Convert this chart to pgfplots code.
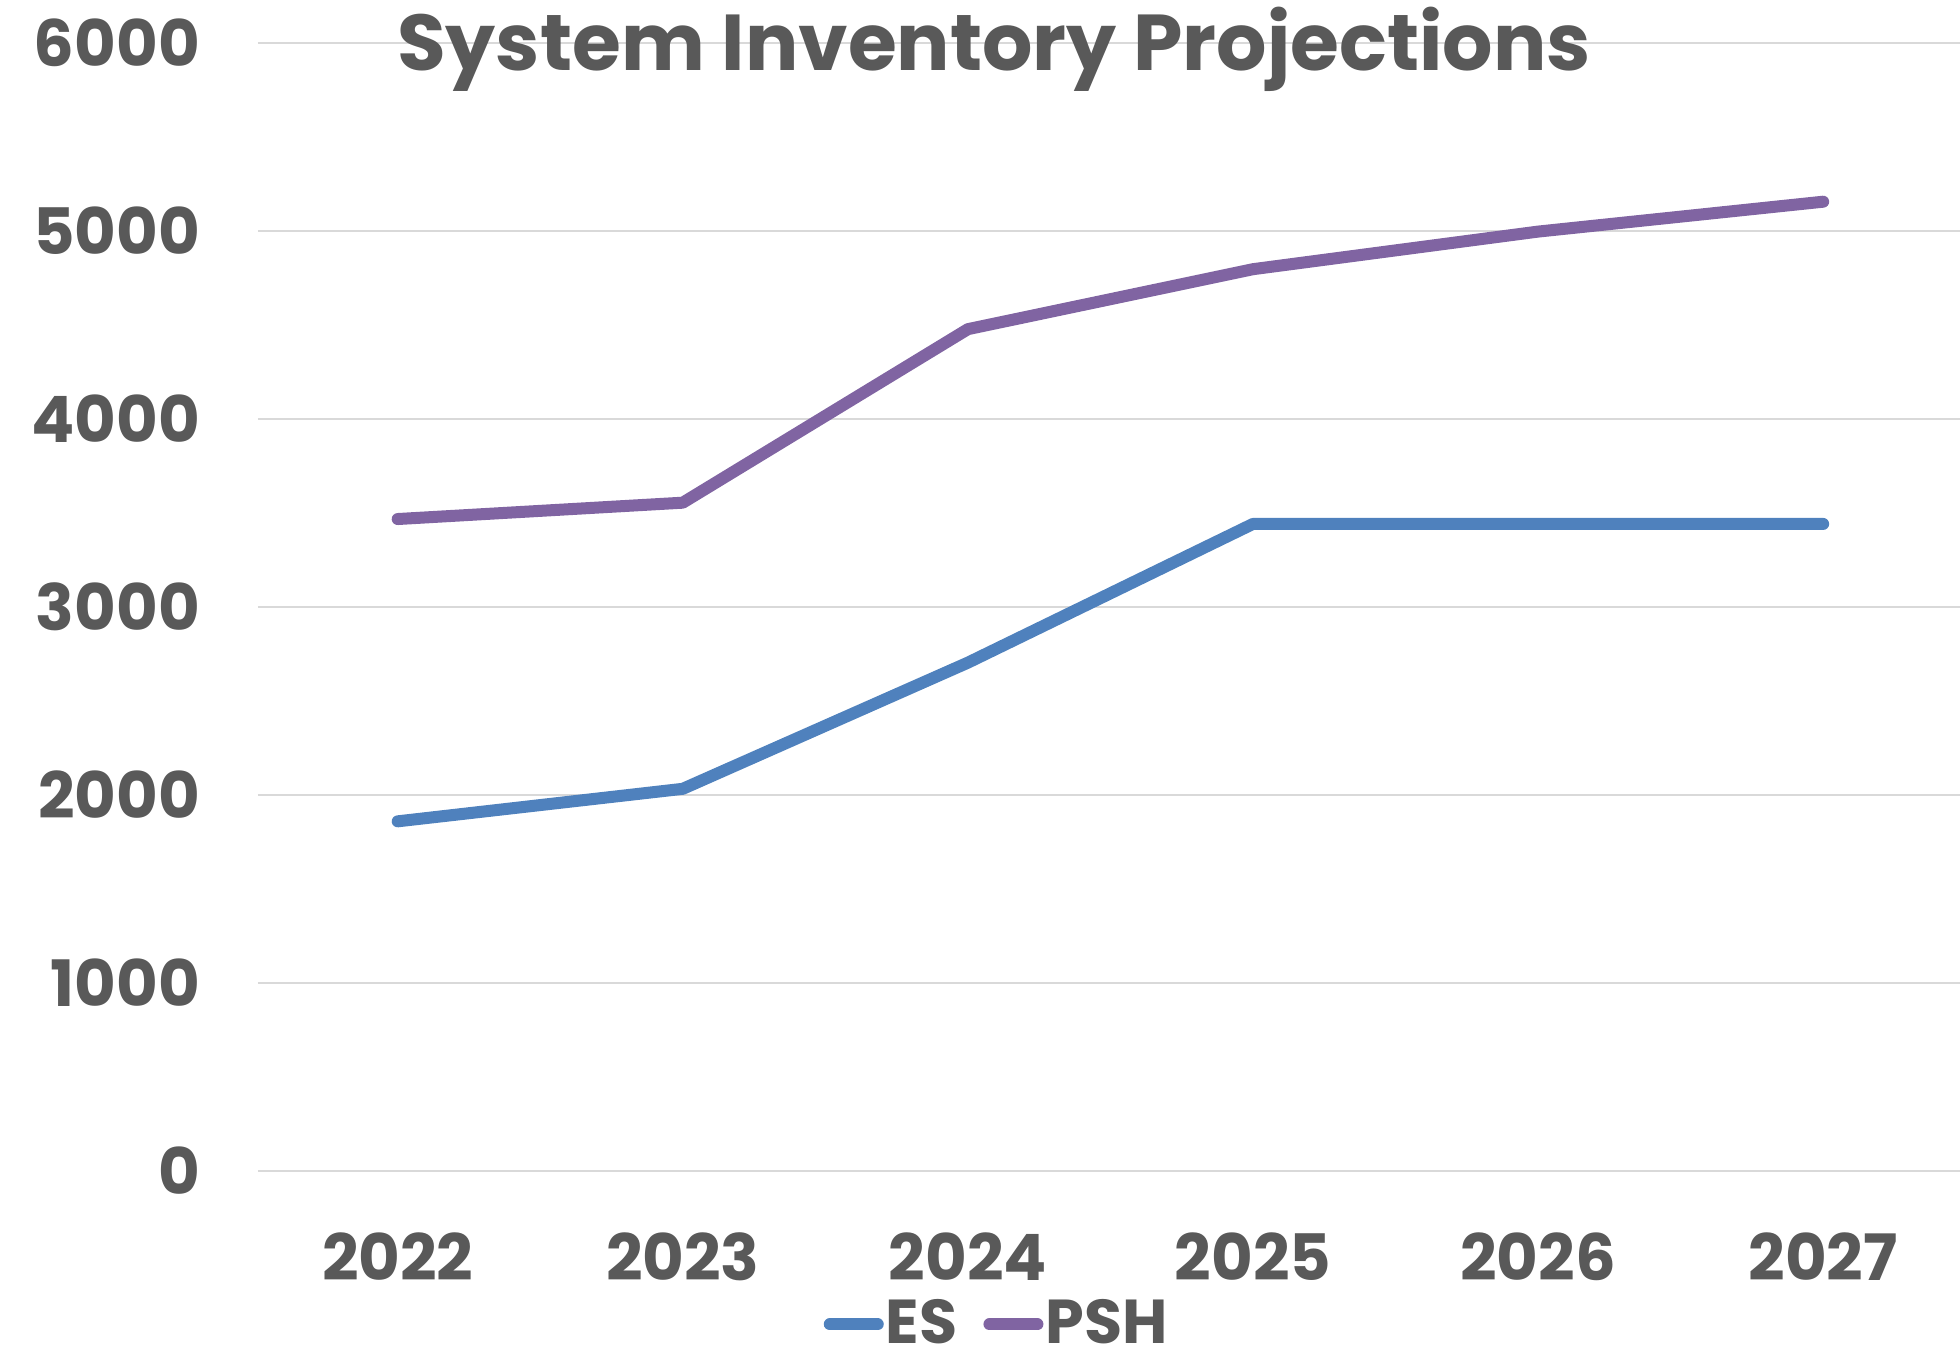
\documentclass[border=0pt]{standalone}
\usepackage{fontspec}
\setmainfont{Poppins}
\usepackage{pgfplots}
\pgfplotsset{compat=1.18}
\definecolor{txt}{HTML}{595959}
\definecolor{gridc}{HTML}{D9D9D9}
\definecolor{es}{HTML}{4F81BD}
\definecolor{psh}{HTML}{8064A2}
\begin{document}
\begin{tikzpicture}
\useasboundingbox (-64.5pt,-47.75pt) rectangle (425.5pt,292.75pt);
\begin{axis}[
  scale only axis,
  width=425.5pt, height=282pt,
  at={(0,0)}, anchor=south west,
  xmin=-0.49, xmax=5.48,
  ymin=0, ymax=6000,
  xtick={0,1,2,3,4,5},
  xticklabels={2022,2023,2024,2025,2026,2027},
  ytick={0,1000,2000,3000,4000,5000,6000},
  xmajorgrids=false,
  ymajorgrids=true,
  major grid style={draw=gridc, line width=0.5pt},
  axis line style={draw=none},
  major tick length=0pt,
  /pgf/number format/assume math mode=true,
  /pgf/number format/1000 sep={},
  tick label style={font=\fontsize{16}{18}\selectfont\bfseries, text=txt},
  yticklabel style={xshift=-11pt},
  xticklabel style={yshift=-12pt},
  clip=false,
  legend style={at={(0.434,-0.136)}, anchor=center, draw=none, fill=none,
    font=\fontsize{15.5}{17}\selectfont\bfseries, text=txt,
    legend columns=2, column sep=0pt, inner sep=0pt,
    nodes={inner sep=0.5pt},
    /tikz/every even column/.append style={column sep=6pt}},
  legend cell align=left,
  legend image code/.code={\draw[#1, line cap=round] (0pt,0pt) -- (12pt,0pt);},
]
\addplot[es, line width=3pt, line cap=round, line join=round] coordinates {
 (0,1860) (1,2033) (2,2704) (3,3442) (4,3442) (5,3442)};
\addlegendentry{ES}
\addplot[psh, line width=3pt, line cap=round, line join=round] coordinates {
 (0,3468) (1,3555) (2,4478) (3,4797) (4,4997) (5,5156)};
\addlegendentry{PSH}
\end{axis}
\node[text=txt, font=\fontsize{19.8}{22}\selectfont\bfseries] at (184pt,280.5pt) {System Inventory Projections};
\end{tikzpicture}
\end{document}
